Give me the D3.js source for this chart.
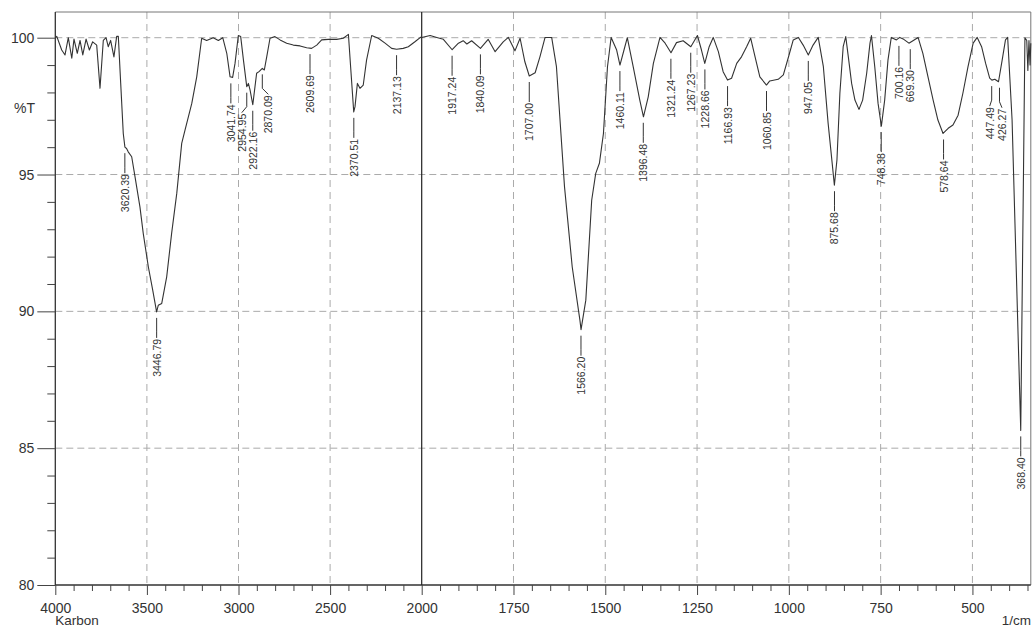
<!DOCTYPE html>
<html>
<head>
<meta charset="utf-8">
<script src="https://cdn.jsdelivr.net/npm/d3@7"></script>
<style>
  body { margin: 0; background: #fff; }
  svg { display: block; font-family: 'Liberation Sans', Arial, sans-serif; }
</style>
</head>
<body>
<svg></svg>
<script>
// IR spectrum: wavenumber (1/cm) and %T
const wavenumbers = [
  4000, 3992, 3965, 3947, 3929, 3910, 3898, 3880, 3865, 3850, 3832, 3814, 3796, 3774, 3756,
  3738, 3723, 3711, 3698, 3680, 3665, 3656, 3643, 3629, 3620, 3611, 3602, 3583, 3565, 3538,
  3520, 3492, 3468, 3447, 3438, 3419, 3392, 3365, 3337, 3310, 3292, 3255, 3228, 3201, 3174,
  3138, 3110, 3086, 3064, 3046, 3032, 3019, 3001, 2988, 2973, 2955, 2946, 2937, 2922, 2910,
  2901, 2888, 2870, 2859, 2846, 2828, 2801, 2773, 2737, 2701, 2664, 2628, 2601, 2573, 2546,
  2510, 2464, 2428, 2400, 2388, 2371, 2364, 2351, 2337, 2319, 2301, 2273, 2237, 2200, 2164,
  2137, 2101, 2073, 2037, 2005,
  2000, 1977, 1959, 1941, 1917, 1900, 1887, 1877, 1864, 1840, 1819, 1800, 1778, 1764, 1746,
  1732, 1719, 1707, 1691, 1678, 1664, 1646, 1633, 1611, 1590, 1569, 1566, 1553, 1537, 1526,
  1516, 1505, 1494, 1484, 1469, 1460, 1449, 1440, 1424, 1406, 1396, 1383, 1369, 1351, 1337,
  1321, 1306, 1288, 1267, 1249, 1238, 1229, 1217, 1206, 1192, 1179, 1167, 1156, 1142, 1129,
  1115, 1104, 1092, 1079, 1061, 1052, 1029, 1015, 1002, 988, 974, 961, 947, 934, 920,
  906, 893, 881, 876, 869, 861, 852, 845, 838, 829, 820, 809, 799, 788, 779,
  775, 766, 757, 748, 739, 730, 721, 707, 698, 687, 673, 662, 648, 635, 621,
  607, 594, 580, 566, 553, 539, 526, 512, 498, 487, 475, 464, 453, 447, 439,
  429, 419, 410, 404, 392, 368.4, 357, 352, 349, 346, 343, 341
];
const transmittance = [
  100.0, 100.05, 99.55, 99.37, 100.0, 99.25, 99.95, 99.43, 99.9, 99.37, 99.95, 99.55, 99.85, 99.73, 98.15,
  99.9, 100.0, 99.67, 99.9, 99.3, 100.05, 100.05, 98.33, 96.5, 96.0, 95.95, 95.83, 95.65, 94.92, 93.82,
  92.85, 91.62, 90.77, 89.98, 90.22, 90.29, 91.26, 92.85, 94.31, 96.14, 96.62, 97.6, 98.57, 99.98, 99.9,
  100.0, 99.9, 100.0, 99.43, 98.57, 98.55, 99.06, 100.08, 100.04, 99.18, 98.21, 98.33, 98.09, 97.55, 98.21,
  98.7, 98.76, 98.88, 98.82, 99.3, 99.98, 100.04, 99.92, 99.8, 99.73, 99.7, 99.63, 99.61, 99.73, 99.92,
  99.94, 99.94, 99.98, 100.12, 98.94, 97.29, 97.48, 98.33, 98.15, 98.27, 99.18, 100.08, 99.98, 99.8, 99.61,
  99.58, 99.61, 99.67, 99.85, 100.02,
  100.01, 100.08, 100.01, 99.94, 99.56, 99.8, 99.89, 99.77, 99.89, 99.61, 99.94, 99.49, 99.85, 100.01, 99.52,
  99.98, 99.12, 98.6, 98.72, 99.3, 100.01, 100.01, 98.94, 94.55, 91.62, 89.67, 89.33, 90.41, 94.06, 95.04,
  95.41, 96.5, 98.94, 100.01, 99.55, 99.0, 99.55, 100.0, 98.94, 97.72, 97.11, 97.84, 99.06, 100.01, 99.8,
  99.45, 99.82, 99.89, 99.67, 100.08, 99.55, 99.06, 99.67, 100.01, 99.49, 98.76, 98.45, 98.52, 99.06, 99.3,
  99.67, 99.98, 99.3, 98.57, 98.27, 98.42, 98.48, 98.64, 99.25, 99.92, 100.01, 99.73, 99.37, 99.73, 100.01,
  98.94, 96.87, 95.28, 94.61, 95.53, 97.97, 99.67, 100.04, 99.3, 98.33, 97.72, 97.38, 97.72, 98.7, 99.8,
  100.08, 98.94, 97.6, 96.77, 97.72, 99.18, 100.01, 99.92, 100.01, 99.94, 99.8, 99.89, 100.01, 99.43, 98.57,
  97.72, 96.99, 96.5, 96.69, 96.81, 97.17, 97.97, 98.94, 99.8, 100.01, 99.67, 99.06, 98.52, 98.45, 98.48,
  98.39, 99.18, 99.92, 100.01, 97.0, 85.65, 100.0, 99.9, 98.8, 99.9, 99.0, 99.8
];

// peak picks printed under the curve
const peakLabels = [
  '3620.39', '3446.79', '3041.74', '2954.95', '2922.16', '2870.09', '2609.69', '2370.51', '2137.13',
  '1917.24', '1840.09', '1707.00', '1566.20', '1460.11', '1396.48', '1321.24', '1267.23', '1228.66',
  '1166.93', '1060.85', '947.05', '875.68', '748.38', '700.16', '669.30', '578.64', '447.49', '426.27', '368.40'
];
const peakT = [
  96.0, 89.98, 98.55, 98.21, 97.55, 98.88, 99.62, 97.29, 99.58,
  99.56, 99.61, 98.6, 89.33, 99.0, 97.11, 99.45, 99.67, 99.06,
  98.45, 98.27, 99.37, 94.61, 96.77, 99.92, 99.8, 96.5, 98.45, 98.39, 85.65
];

const yTicks = [80, 85, 90, 95, 100];
const xTicksLeft = [4000, 3500, 3000, 2500, 2000];
const xTicksRight = [1750, 1500, 1250, 1000, 750, 500];

const size = {w: 1032, h: 629};
const plot = {l: 55.3, r: 1030.8, t: 12, b: 585, split: 421.7};
const font = "'Liberation Sans', Arial, sans-serif";

// labels crowded together get a slanted leader
const labelShift = {'2954.95': -5, '2870.09': 6, '447.49': -2, '426.27': 2.5};

const svg = d3.select('svg')
    .attr('width', size.w)
    .attr('height', size.h);

// two linear pieces: 4000-2000 is squeezed, 2000-341 is twice as wide
const xLeft = d3.scaleLinear().domain([4000, 2000]).range([plot.l, plot.split]);
const xRight = d3.scaleLinear().domain([2000, 341]).range([plot.split, plot.r]);
const x = w => w >= 2000 ? xLeft(w) : xRight(w);
const y = d3.scaleLinear().domain([80, 100]).range([plot.b, 37.7]);

// --------- GRID ----------
const gridG = svg.append('g')
    .attr('stroke', '#aaa')
    .attr('stroke-width', 1);

gridG.selectAll('line.h')
    .data(yTicks.filter(d => d > 80))
    .join('line')
    .classed('h', true)
    .attr('stroke-dasharray', '7,4')
    .attr('x1', plot.l).attr('x2', plot.r)
    .attr('y1', d => y(d)).attr('y2', d => y(d));

gridG.selectAll('line.v')
    .data(xTicksLeft.filter(d => d > 2000 && d < 4000).concat(xTicksRight))
    .join('line')
    .classed('v', true)
    .attr('stroke-dasharray', '7,5')
    .attr('x1', d => x(d)).attr('x2', d => x(d))
    .attr('y1', plot.t).attr('y2', plot.b);

// --------- FRAME ----------
svg.append('path')
    .attr('d', `M${plot.l},${plot.t}H${plot.r}V${plot.b}`)
    .attr('fill', 'none')
    .attr('stroke', '#777');

svg.append('path')
    .attr('d', `M${plot.l},${plot.t}V${plot.b}H${plot.r}`)
    .attr('fill', 'none')
    .attr('stroke', '#333')
    .attr('stroke-width', 1.3);

// divider where the scale changes
svg.append('line')
    .attr('x1', plot.split).attr('x2', plot.split)
    .attr('y1', plot.t).attr('y2', plot.b)
    .attr('stroke', '#222')
    .attr('stroke-width', 1.2);

// --------- AXES ----------
function styleAxis(g) {
    g.select('.domain').remove();
    g.attr('font-family', font).attr('font-size', 14);
    g.selectAll('line').attr('stroke', '#444');
    g.selectAll('text').attr('fill', '#333');
}

const bottom = svg.append('g').attr('transform', `translate(0,${plot.b})`);
bottom.append('g')
    .call(d3.axisBottom(xLeft).tickValues(xTicksLeft).tickSize(10).tickPadding(8).tickFormat(d3.format('d')))
    .call(styleAxis);
bottom.append('g')
    .call(d3.axisBottom(xLeft).tickValues(d3.range(3900, 2000, -100).filter(d => d % 500)).tickSize(6).tickFormat(''))
    .call(styleAxis);
bottom.append('g')
    .call(d3.axisBottom(xRight).tickValues(xTicksRight).tickSize(10).tickPadding(8).tickFormat(d3.format('d')))
    .call(styleAxis);
bottom.append('g')
    .call(d3.axisBottom(xRight).tickValues(d3.range(1950, 341, -50).filter(d => d % 250)).tickSize(6).tickFormat(''))
    .call(styleAxis);

const left = svg.append('g').attr('transform', `translate(${plot.l},0)`);
left.append('g')
    .call(d3.axisLeft(y).tickValues(yTicks).tickSize(18).tickPadding(3))
    .call(styleAxis);
left.append('g')
    .call(d3.axisLeft(y).tickValues(d3.range(81, 100).filter(d => d % 5)).tickSize(8).tickFormat(''))
    .call(styleAxis);

// axis captions
svg.append('text')
    .attr('x', 35).attr('y', 108)
    .attr('text-anchor', 'end')
    .attr('dominant-baseline', 'central')
    .attr('font-size', 14).attr('fill', '#333')
    .text('%T');

svg.append('text')
    .attr('x', plot.l).attr('y', 625)
    .attr('font-size', 13.5).attr('fill', '#333')
    .text('Karbon');

svg.append('text')
    .attr('x', 1031).attr('y', 625)
    .attr('text-anchor', 'end')
    .attr('font-size', 13.5).attr('fill', '#333')
    .text('1/cm');

// --------- SPECTRUM ----------
const spectrum = d3.zip(wavenumbers, transmittance);
const line = d3.line()
    .x(d => x(d[0]))
    .y(d => y(d[1]));

svg.append('path')
    .datum(spectrum)
    .attr('d', line)
    .attr('fill', 'none')
    .attr('stroke', '#333')
    .attr('stroke-width', 1.1)
    .attr('stroke-linejoin', 'round');

// --------- PEAK LABELS ----------
const peaks = peakLabels.map((lab, i) => ({lab, px: x(+lab), py: y(peakT[i]), dx: labelShift[lab] || 0}));
const peakG = svg.append('g');

peakG.selectAll('path')
    .data(peaks)
    .join('path')
    .attr('d', d => `M${d.px},${d.py + 6}V${d.py + 20}L${d.px + d.dx},${d.py + 26}`)
    .attr('fill', 'none')
    .attr('stroke', '#333')
    .attr('stroke-width', 1);

peakG.selectAll('text')
    .data(peaks)
    .join('text')
    .attr('transform', d => `translate(${d.px + d.dx},${d.py + 27}) rotate(-90)`)
    .attr('text-anchor', 'end')
    .attr('dominant-baseline', 'central')
    .attr('font-size', 10.5)
    .attr('fill', '#333')
    .text(d => d.lab);
</script>
</body>
</html>
